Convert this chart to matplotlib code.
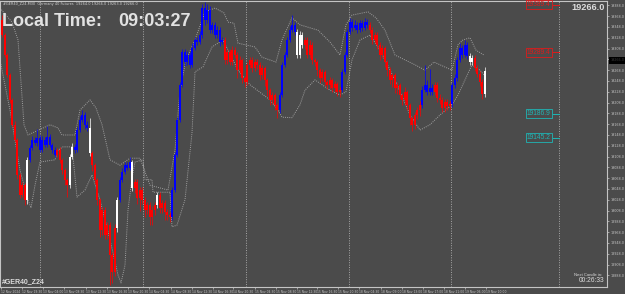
import matplotlib
matplotlib.use("Agg")
import matplotlib.pyplot as plt

# ---------------- data ----------------
first_open = 19361
close = [
    19333, 19296, 19259, 19213, 19167, 19139, 19074, 19037, 19055, 19028,
    19102, 19124, 19139, 19133, 19142, 19120, 19139, 19130, 19144, 19130,
    19120, 19111, 19120, 19102, 19083, 19065, 19055, 19107, 19126, 19120,
    19157, 19176, 19185, 19167, 19161, 19115, 19092, 19065, 19028, 18972,
    19009, 18963, 18981, 18926, 18894, 18976, 19028, 19065, 19080, 19092,
    19087, 19098, 19050, 19061, 19031, 19046, 19028, 19009, 19018, 18996,
    19009, 19018, 19037, 19013, 19022, 19005, 19000, 18996, 19046, 19111,
    19176, 19241, 19302, 19283, 19296, 19278, 19309, 19324, 19320, 19333,
    19383, 19361, 19380, 19342, 19352, 19333, 19342, 19320, 19324, 19287,
    19302, 19283, 19305, 19296, 19268, 19287, 19254, 19246, 19278, 19287,
    19272, 19283, 19278, 19259, 19272, 19250, 19231, 19213, 19222, 19204,
    19194, 19222, 19278, 19296, 19324, 19342, 19352, 19339, 19296, 19333,
    19315, 19324, 19296, 19315, 19287, 19283, 19268, 19254, 19265, 19246,
    19241, 19250, 19235, 19242, 19228, 19231, 19265, 19296, 19339, 19357,
    19346, 19352, 19342, 19355, 19346, 19357, 19352, 19342, 19324, 19333,
    19315, 19296, 19309, 19283, 19268, 19250, 19259, 19235, 19241, 19222,
    19213, 19228, 19204, 19180, 19167, 19185, 19194, 19204, 19231, 19241,
    19228, 19235, 19228, 19241, 19217, 19213, 19198, 19209, 19202, 19205,
    19241, 19254, 19287, 19309, 19296, 19315, 19294, 19283, 19291, 19272,
    19261, 19246, 19224, 19266,
]
wick_up = [
    9, 4, 4, 4, 4, 6, 4, 4, 6, 4,
    6, 6, 8, 6, 18, 6, 8, 6, 20, 6,
    4, 6, 4, 6, 4, 4, 4, 6, 8, 6,
    6, 8, 10, 6, 6, 18, 4, 4, 4, 4,
    6, 6, 6, 6, 6, 8, 6, 6, 6, 6,
    6, 10, 4, 6, 6, 6, 6, 6, 6, 6,
    8, 6, 6, 6, 6, 6, 6, 6, 6, 6,
    6, 6, 6, 6, 8, 6, 10, 6, 6, 8,
    8, 12, 10, 6, 6, 6, 8, 6, 6, 6,
    6, 6, 8, 6, 6, 8, 4, 4, 6, 6,
    6, 6, 6, 6, 6, 4, 4, 4, 6, 4,
    4, 6, 6, 6, 6, 8, 18, 6, 6, 8,
    6, 6, 6, 8, 6, 4, 4, 4, 6, 4,
    4, 6, 4, 6, 4, 6, 6, 6, 6, 8,
    6, 8, 6, 6, 6, 8, 6, 6, 6, 6,
    6, 6, 6, 4, 4, 6, 4, 4, 6, 4,
    4, 8, 4, 4, 4, 6, 6, 6, 8, 36,
    8, 36, 8, 6, 6, 6, 6, 6, 6, 6,
    6, 6, 6, 10, 6, 8, 6, 6, 6, 6,
    6, 6, 6, 8,
]
wick_dn = [
    4, 4, 4, 6, 4, 4, 8, 6, 4, 10,
    8, 4, 4, 4, 6, 4, 4, 4, 4, 4,
    6, 4, 4, 6, 8, 10, 22, 6, 4, 6,
    4, 4, 4, 8, 6, 6, 10, 8, 10, 12,
    10, 8, 8, 55, 20, 8, 8, 4, 4, 4,
    4, 4, 6, 10, 10, 24, 8, 12, 8, 14,
    14, 10, 6, 10, 10, 14, 10, 10, 6, 4,
    4, 4, 4, 8, 6, 6, 4, 4, 6, 4,
    6, 10, 6, 6, 6, 6, 6, 8, 4, 8,
    8, 6, 6, 6, 14, 6, 10, 10, 6, 6,
    8, 6, 8, 10, 8, 12, 10, 10, 8, 10,
    14, 6, 4, 4, 4, 4, 4, 6, 6, 6,
    6, 8, 6, 6, 8, 8, 10, 10, 6, 8,
    8, 8, 8, 8, 8, 10, 4, 4, 4, 4,
    6, 4, 6, 4, 6, 4, 6, 6, 8, 6,
    8, 10, 6, 10, 10, 8, 14, 10, 12, 8,
    10, 10, 10, 14, 12, 8, 8, 10, 6, 4,
    6, 6, 6, 6, 8, 8, 8, 8, 8, 8,
    6, 6, 6, 4, 6, 4, 6, 6, 6, 6,
    6, 8, 10, 6,
]
trend = ("R" * 10 + "W" + "B" * 11 + "R" * 5 + "W" * 2 + "B" * 6 + "W" +
         "R" * 10 + "W" + "B" * 5 + "W" + "R" * 9 + "W" + "R" * 5 +
         "B" * 21 + "R" * 22 + "B" * 7 + "W" * 3 + "R" * 15 + "B" * 11 +
         "R" * 21 + "B" * 5 + "R" * 7 + "B" * 7 + "W" * 2 + "R" * 4 + "W")

upper_x = [-0.8, 4, 6.4, 8.8, 10.4, 19.2, 22.4, 24, 29.2, 31.2, 35.2, 37.6, 40,
           43.2, 47.2, 51.2, 55.2, 59.2, 66.4, 69.2, 71.2, 73.6, 77.2, 81.2,
           85.2, 88.8, 90.4, 92.8, 94.4, 101.2, 104, 109.6, 112, 116, 119.2,
           126.4, 131.2, 135.2, 137.6, 140, 146.4, 149.6, 153.2, 157.2, 161.2,
           165.2, 169.2, 172.8, 175.2, 180, 182.4, 184.4, 187.2, 189.6, 192.8]
upper_y = [19383, 19357, 19324, 19167, 19148, 19167, 19161, 19148, 19148,
           19194, 19213, 19198, 19167, 19102, 19092, 19105, 19105, 19055,
           19046, 19120, 19231, 19287, 19324, 19376, 19383, 19374, 19357,
           19355, 19318, 19311, 19292, 19283, 19324, 19365, 19352, 19342,
           19320, 19296, 19352, 19370, 19376, 19365, 19342, 19296, 19287,
           19278, 19268, 19283, 19278, 19268, 19315, 19324, 19328, 19305,
           19296]
lower_x = [-0.8, 3.2, 7.2, 10.4, 11.6, 13.2, 15.2, 21.2, 22.4, 24.4, 28, 30,
           33.2, 36, 39.2, 43.2, 46.4, 47.6, 49.2, 50.4, 52, 53.2, 56.4, 57.2,
           60, 60.4, 67.2, 68, 70, 73.2, 76, 77.2, 80.4, 84, 88.4, 94.4, 99.2,
           107.2, 110.4, 112, 116, 119.2, 121.2, 125.2, 131.2, 135.2, 137.6,
           140, 143.2, 147.2, 151.2, 157.2, 163.2, 167.2, 171.2, 175.2, 180,
           182.4, 185.2, 188, 191.2, 192.8]
lower_y = [19287, 19194, 19083, 19028, 19013, 19055, 19098, 19102, 19120,
           19126, 19126, 19033, 19046, 19074, 19028, 18954, 18889, 18874,
           18907, 19009, 19068, 19098, 19102, 19065, 19065, 19042, 19042,
           18978, 18981, 19028, 19152, 19265, 19274, 19311, 19324, 19268,
           19241, 19213, 19194, 19181, 19180, 19204, 19231, 19250, 19231,
           19222, 19228, 19287, 19324, 19333, 19305, 19250, 19185, 19157,
           19167, 19185, 19204, 19222, 19250, 19278, 19268, 19259]

separators = [15.2, 56.4, 97.6, 138.8, 179.6, 222.6]
level_values = ["19389.4", "19289.4", "19186.9", "19145.2"]
level_anchor = [19389, 19301, 19187, 19143]
level_colors = ["#e01a1a", "#e01a1a", "#1fb5b5", "#1fb5b5"]
price_ticks = [19388 - 20 * k for k in range(26)]
time_pos = [-0.4, 8, 16.4, 24.8, 33.6, 42, 50.4, 58.8, 67.6, 76, 84.4, 92.4,
            101.2, 109.6, 118, 126, 134.4, 142.8, 151.6, 160, 168.4, 176.8,
            185.2, 193.6]
time_labels = ["12 Nov 2024", "12 Nov 19:30", "13 Nov 04:00", "13 Nov 08:30",
               "13 Nov 12:30", "13 Nov 16:30", "13 Nov 20:30", "14 Nov 04:30",
               "14 Nov 08:30", "14 Nov 12:30", "14 Nov 16:30", "14 Nov 20:30",
               "15 Nov 04:30", "15 Nov 08:30", "15 Nov 12:30", "15 Nov 16:30",
               "15 Nov 20:30", "18 Nov 04:30", "18 Nov 09:00", "18 Nov 13:00",
               "18 Nov 17:00", "18 Nov 21:00", "19 Nov 06:00", "19 Nov 10:00"]
current_price = 19266.0
current_box_anchor = 19286

# ---------------- style ----------------
BG = "#4b4b4b"
AX = "#c4c4c4"
CMAP = {"R": "#ff0000", "B": "#0000ff", "W": "#ffffff"}

fig = plt.figure(figsize=(6.25, 2.94), dpi=100)
fig.patch.set_facecolor(BG)
ax = fig.add_axes([0, 7 / 294, 607 / 625, 286 / 294])
ax.set_facecolor(BG)
ax.set_xlim(-0.8, 242.0)
ax.set_ylim(18866.5, 19396.1)

for s in ax.spines.values():
    s.set_color(AX)
    s.set_linewidth(0.8)

# separators
for sx in separators:
    ax.axvline(sx, color="#a8a8a8", lw=0.7, ls=(0, (1, 1.5)), zorder=1)

# bands
ax.plot(upper_x, upper_y, color="#a0a0a0", lw=0.7, ls=(0, (1, 1.2)), zorder=2)
ax.plot(lower_x, lower_y, color="#a0a0a0", lw=0.7, ls=(0, (1, 1.2)), zorder=2)

# candles
opens = [first_open] + close[:-1]
for i, (o, c) in enumerate(zip(opens, close)):
    col = CMAP[trend[i]]
    hi = max(o, c) + wick_up[i]
    lo = min(o, c) - wick_dn[i]
    ax.vlines(i, lo, hi, color=col, lw=0.5, zorder=3)
    h = c - o
    if abs(h) < 1.5:
        h = 1.5
        bot = min(o, c)
    else:
        bot = o
    ax.bar(i, h, bottom=bot, width=0.8, color=col, linewidth=0, zorder=4)

# level labels
for txt, yv, col in zip(level_values, level_anchor, level_colors):
    ax.text(210.0, yv, txt, color=col, fontsize=4.8, ha="left", va="center",
            family="Liberation Sans",
            bbox=dict(boxstyle="square,pad=0.15", fc="none", ec=col, lw=0.6),
            zorder=6)
    ax.plot([220.2, 222.6], [yv, yv], color=col, lw=0.7, zorder=6)

# axis ticks
ax.yaxis.tick_right()
ax.set_yticks(price_ticks)
ax.set_yticklabels([f"{v:.1f}" for v in price_ticks])
ax.tick_params(axis="y", colors=AX, labelsize=2.4, length=1.5, width=0.5, pad=0.8)
ax.set_xticks(time_pos)
ax.set_xticklabels(time_labels, ha="left")
ax.tick_params(axis="x", colors=AX, labelsize=2.2, length=1.5, width=0.5, pad=0.5)

# current price box on axis
ax.text(1.006, current_box_anchor, f"{current_price:.1f}",
        transform=ax.get_yaxis_transform(), fontsize=2.4, color="#3a3a3a",
        ha="left", va="center",
        bbox=dict(boxstyle="square,pad=0.5", fc="#000000", ec="none"),
        zorder=10, clip_on=False)

# texts
fig.text(3 / 625, 1 - 4 / 294,
         "#GER40_Z24,M30  Germany 40 Futures  19264.0 19266.0 19263.0 19266.0",
         fontsize=2.5, color="#d0d0d0", va="center", ha="left")
fig.text(2 / 625, 1 - 21 / 294, "Local Time:", fontsize=13, fontweight="bold",
         color="#e2e2e2", family="Liberation Sans", va="center", ha="left")
fig.text(118 / 625, 1 - 21 / 294, "09:03:27", fontsize=13, fontweight="bold",
         color="#e2e2e2", family="Liberation Sans", va="center", ha="left")
fig.text(605 / 625, 1 - 7 / 294, f"{current_price:.1f}", fontsize=6.6,
         fontweight="bold", color="#dcdcdc", family="Liberation Sans",
         va="center", ha="right")
fig.text(2 / 625, 1 - 282 / 294, "#GER40_Z24", fontsize=5, fontweight="bold",
         color="#dcdcdc", family="Liberation Sans", va="center", ha="left")
fig.text(602 / 625, 1 - 275 / 294, "Next Candle in:", fontsize=3.0,
         color="#dcdcdc", family="Liberation Sans", va="center", ha="right")
fig.text(604 / 625, 1 - 281 / 294, "00:26:33", fontsize=4.8,
         color="#dcdcdc", family="Liberation Sans", va="center", ha="right")

fig.savefig("out.png", dpi=100, facecolor=BG)
